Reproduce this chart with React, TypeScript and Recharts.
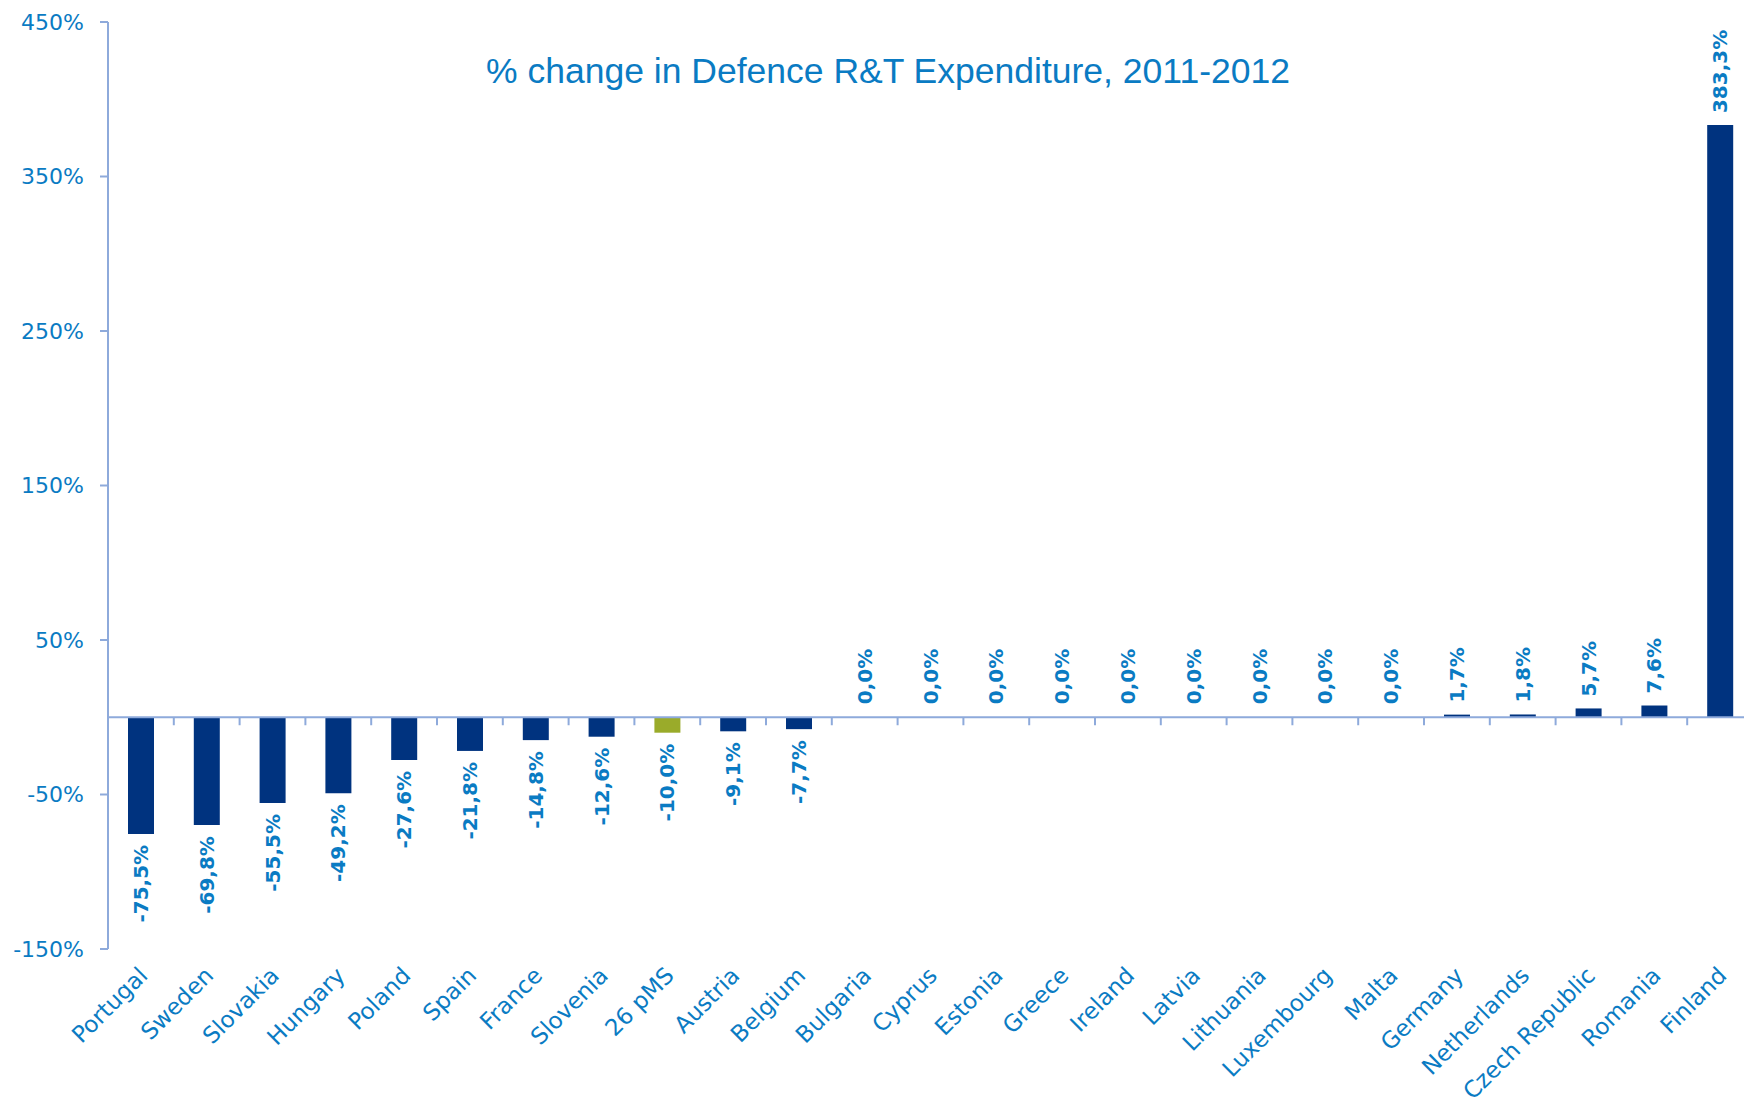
import { BarChart, Bar, XAxis, YAxis, Cell, LabelList, ReferenceLine } from "recharts";

const countries = [
  "Portugal", "Sweden", "Slovakia", "Hungary", "Poland", "Spain", "France", "Slovenia",
  "26 pMS", "Austria", "Belgium", "Bulgaria", "Cyprus", "Estonia", "Greece", "Ireland",
  "Latvia", "Lithuania", "Luxembourg", "Malta", "Germany", "Netherlands", "Czech Republic",
  "Romania", "Finland",
];
const changePct = [
  -75.5, -69.8, -55.5, -49.2, -27.6, -21.8, -14.8, -12.6, -10.0, -9.1, -7.7,
  0, 0, 0, 0, 0, 0, 0, 0, 0, 1.7, 1.8, 5.7, 7.6, 383.3,
];
const highlighted = ["26 pMS"];
const yTicks = [-150, -50, 50, 150, 250, 350, 450];

const data = countries.map((name, i) => ({ name, value: changePct[i] }));

const W = 1744;
const H = 1103;
const TOP = 22;
const LEFT = 8;
const RIGHT = -9;
const Y_WIDTH = 100;
const X_HEIGHT = 154;
const plotH = H - TOP - X_HEIGHT;
const plotW = W - LEFT - Y_WIDTH - RIGHT;
const band = plotW / countries.length;
const zeroY = TOP + plotH * (450 / 600);

const TEXT = "#0a7bc3";
const AXIS = "#8eaadb";
const NAVY = "#00337f";
const GREEN = "#9aab2a";

const fmt = (v: number) => v.toFixed(1).replace(".", ",") + "%";

function CategoryTick(props: any) {
  const { x, payload, index } = props;
  return (
    <g>
      {index < countries.length - 1 && (
        <line x1={x + band / 2} x2={x + band / 2} y1={zeroY} y2={zeroY + 8} stroke={AXIS} strokeWidth={2} />
      )}
      <text
        transform={`translate(${x + 8},${TOP + plotH + 28}) rotate(-45)`}
        textAnchor="end"
        fill={TEXT}
        fontSize={23}
        fontFamily="DejaVu Sans, Verdana, sans-serif"
      >
        {payload.value}
      </text>
    </g>
  );
}

function ValueLabel(props: any) {
  const { x, y, width, height, value } = props;
  const cx = x + width / 2;
  const top = Math.min(y, y + height);
  const bottom = Math.max(y, y + height);
  const neg = value < 0;
  const ay = neg ? bottom + 11 : top - 12;
  return (
    <text
      transform={`translate(${cx},${ay}) rotate(-90)`}
      textAnchor={neg ? "end" : "start"}
      dominantBaseline="central"
      fill={TEXT}
      fontSize={20}
      fontWeight="bold"
      fontFamily="DejaVu Sans, Verdana, sans-serif"
    >
      {fmt(value)}
    </text>
  );
}

export default function App() {
  return (
    <div style={{ position: "absolute", left: 0, top: 0, width: W, height: H, background: "#fff" }}>
      <BarChart
        width={W}
        height={H}
        data={data}
        margin={{ top: TOP, right: RIGHT, left: LEFT, bottom: 0 }}
        barSize={26}
      >
        <text
          x={888}
          y={83}
          textAnchor="middle"
          fill={TEXT}
          fontSize={35.5}
          fontFamily="Liberation Sans, Arial, sans-serif"
        >
          % change in Defence R&amp;T Expenditure, 2011-2012
        </text>
        <XAxis
          dataKey="name"
          interval={0}
          axisLine={false}
          tickLine={false}
          height={X_HEIGHT}
          tick={<CategoryTick />}
        />
        <YAxis
          width={Y_WIDTH}
          domain={[-150, 450]}
          ticks={yTicks}
          interval={0}
          tickFormatter={(v: number) => `${v}%`}
          axisLine={{ stroke: AXIS, strokeWidth: 2 }}
          tickLine={{ stroke: AXIS, strokeWidth: 2 }}
          tickSize={8}
          tickMargin={16}
          tick={{ fill: TEXT, fontSize: 22, fontFamily: "DejaVu Sans, Verdana, sans-serif" }}
        />
        <ReferenceLine y={0} stroke={AXIS} strokeWidth={2} />
        <Bar dataKey="value" isAnimationActive={false} minPointSize={1}>
          {data.map((d) => (
            <Cell
              key={d.name}
              fill={d.value === 0 ? "transparent" : highlighted.includes(d.name) ? GREEN : NAVY}
            />
          ))}
          <LabelList dataKey="value" content={<ValueLabel />} />
        </Bar>
      </BarChart>
    </div>
  );
}
